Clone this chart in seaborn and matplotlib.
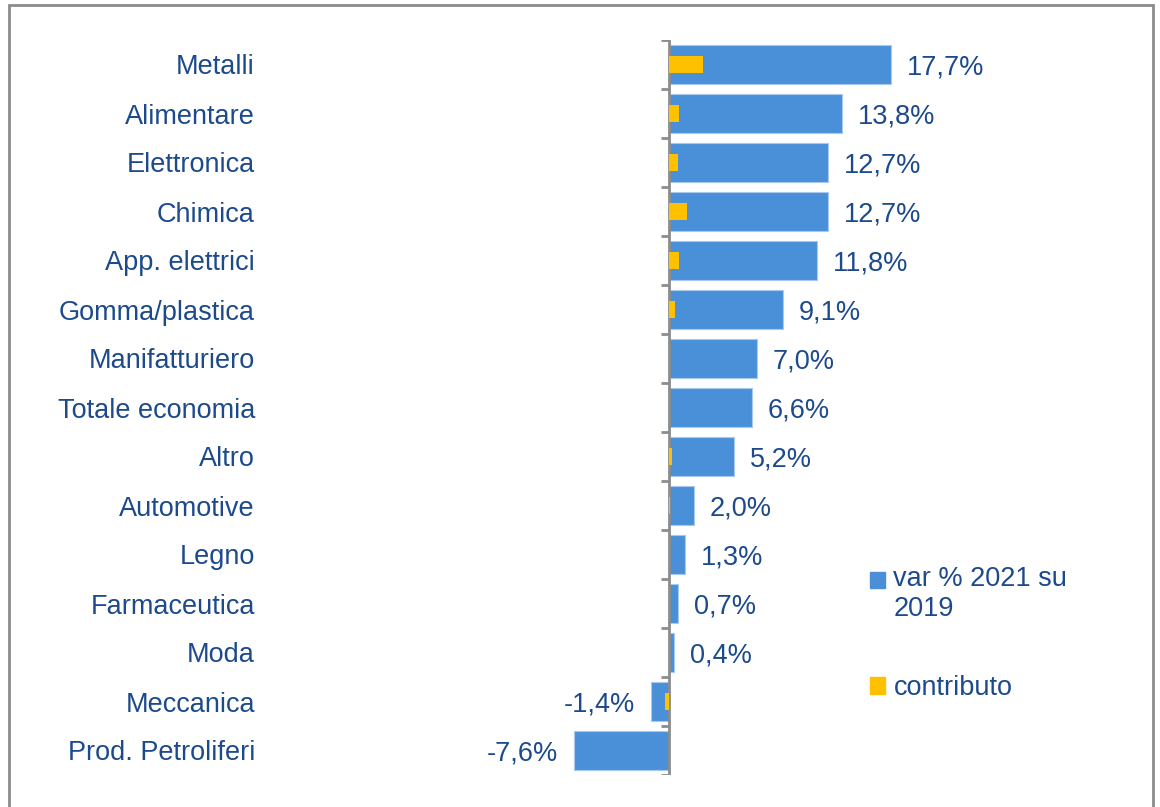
import matplotlib
matplotlib.use("Agg")
import matplotlib.pyplot as plt
import matplotlib.patches as mpatches
from matplotlib.legend_handler import HandlerPatch
import seaborn as sns
import pandas as pd
import numpy as np

settori = ["Metalli", "Alimentare", "Elettronica", "Chimica", "App. elettrici",
           "Gomma/plastica", "Manifatturiero", "Totale economia", "Altro",
           "Automotive", "Legno", "Farmaceutica", "Moda", "Meccanica",
           "Prod. Petroliferi"]
var_2021_2019 = [17.7, 13.8, 12.7, 12.7, 11.8, 9.1, 7.0, 6.6, 5.2, 2.0, 1.3, 0.7, 0.4, -1.4, -7.6]
contributo = [2.7, 0.8, 0.7, 1.4, 0.8, 0.5, 0.0, 0.0, 0.2, 0.1, 0.0, 0.0, 0.0, -0.3, 0.0]

df = pd.DataFrame({"settore": settori, "var": var_2021_2019, "contributo": contributo})

sns.set_style("white")
plt.rcParams["font.family"] = ["Liberation Sans", "DejaVu Sans"]

blu = "#4A90D9"
giallo = "#FFC000"
testo = "#1C4A8C"
fs = 19.5

fig = plt.figure(figsize=(11.6, 8.07), dpi=100)
W, H = 1160, 807
ax = fig.add_axes([270 / W, (H - 775) / H, (1140 - 270) / W, 735 / H])

sns.barplot(data=df, x="var", y="settore", orient="h", color=blu, width=0.78,
            edgecolor="#A8C8EE", linewidth=0.8, saturation=1, ax=ax, zorder=2)
sns.barplot(data=df, x="contributo", y="settore", orient="h", color=giallo, width=0.35,
            saturation=1, linewidth=0, ax=ax, zorder=4)

ax.set_xlim(-31.82, 37.56)
ax.set_ylim(len(settori) - 0.5, -0.5)
for s in ax.spines.values():
    s.set_visible(False)
ax.set_xticks([])
ax.set_xlabel("")
ax.set_ylabel("")
ax.tick_params(axis="y", length=0, pad=10.8, labelsize=fs, labelcolor=testo)

# asse verticale allo zero con tacche tra le categorie
ax.axvline(0, color="#8C8C8C", linewidth=2, zorder=3)
confini = np.arange(len(settori) + 1) - 0.5
ax.hlines(confini, -0.64, 0, color="#8C8C8C", linewidth=2, zorder=3)

for i, v in enumerate(var_2021_2019):
    lab = f"{v:.1f}%".replace(".", ",")
    ax.annotate(lab, xy=(v, i), xytext=(11.5 if v >= 0 else -11.5, -2),
                textcoords="offset points", ha="left" if v >= 0 else "right",
                va="center", fontsize=fs, color=testo)


def quadrato_alto(legend, orig_handle, xdescent, ydescent, width, height, fontsize):
    return mpatches.Rectangle((-xdescent, -ydescent + 10.8), width, height)


h_var = mpatches.Patch(color=blu, label="var % 2021 su\n2019")
h_con = mpatches.Patch(color=giallo, label="contributo")
leg = ax.legend(handles=[h_var, h_con], loc="upper left",
                bbox_to_anchor=(846 / W, (H - 542) / H),
                bbox_transform=fig.transFigure, frameon=False, fontsize=fs,
                handlelength=0.55, handleheight=0.55, handletextpad=0.3,
                labelspacing=1.95, labelcolor=testo,
                handler_map={h_var: HandlerPatch(patch_func=quadrato_alto)})

# cornice grigia
fig.patches.append(mpatches.Rectangle((8.5 / W, -0.05), (1153 - 8.5) / W, 1.05 - 5.5 / H,
                                      transform=fig.transFigure, fill=False,
                                      edgecolor="#8C8C8C", linewidth=2))

fig.savefig("out.png", dpi=100)
